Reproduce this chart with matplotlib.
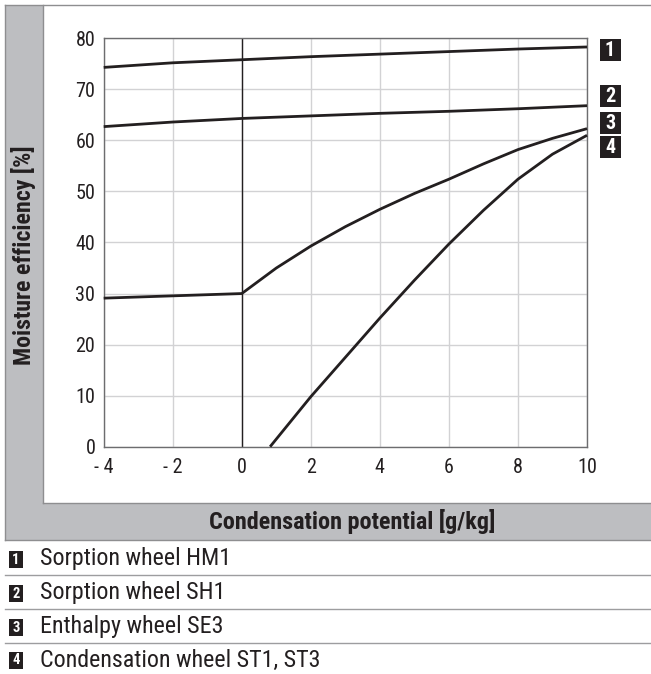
import matplotlib
matplotlib.use("Agg")
import matplotlib.pyplot as plt
from matplotlib.patches import Rectangle
from matplotlib.lines import Line2D
from matplotlib import font_manager

# --- data -------------------------------------------------------------
x_hm1 = [-4, -2, 0, 2, 4, 6, 8, 10]
y_hm1 = [74.3, 75.2, 75.8, 76.4, 76.9, 77.4, 77.9, 78.3]

x_sh1 = [-4, -2, 0, 2, 4, 6, 8, 10]
y_sh1 = [62.7, 63.6, 64.3, 64.8, 65.3, 65.7, 66.2, 66.8]

x_se3 = [-4, -2, 0, 1, 2, 3, 4, 5, 6, 7, 8, 9, 10]
y_se3 = [29.1, 29.55, 30.0, 35.0, 39.3, 43.1, 46.5, 49.6, 52.4, 55.4, 58.2, 60.4, 62.3]

x_st = [0.82, 2, 3, 4, 5, 6, 7, 8, 9, 10]
y_st = [0.0, 9.8, 17.5, 25.2, 32.6, 39.7, 46.3, 52.4, 57.3, 61.0]

series_numbers = ["1", "2", "3", "4"]
series_names = ["Sorption wheel HM1", "Sorption wheel SH1",
                "Enthalpy wheel SE3", "Condensation wheel ST1, ST3"]

x_ticks = [-4, -2, 0, 2, 4, 6, 8, 10]
x_tick_labels = ["- 4", "- 2", "0", "2", "4", "6", "8", "10"]
y_ticks = [0, 10, 20, 30, 40, 50, 60, 70, 80]

x_label = "Condensation potential [g/kg]"
y_label = "Moisture efficiency [%]"

# --- fonts: prefer a narrow sans if one is installed ----------------------
fonts = font_manager.fontManager.ttflist
names = {f.name for f in fonts}
family = None
stretch = "normal"
for cand in ["Liberation Sans Narrow", "Arial Narrow", "Roboto Condensed",
             "Open Sans Condensed", "Noto Sans Condensed", "DejaVu Sans Condensed"]:
    if cand in names:
        family = cand
        break
if family is None:
    for f in fonts:
        if ("Narrow" in f.name or "Condensed" in f.name) and "Mono" not in f.name:
            family = f.name
            break
if family is None:
    for f in fonts:
        st = f.stretch
        if isinstance(st, str) and "condensed" in st and "Mono" not in f.name \
                and "Serif" not in f.name:
            family, stretch = f.name, st
            break
narrow_found = family is not None
if family is None:
    family = "Liberation Sans"
plt.rcParams["font.family"] = [family, "DejaVu Sans"]
plt.rcParams["font.stretch"] = stretch
scale = 1.0 if narrow_found else 0.9

W, H = 651, 674
fig = plt.figure(figsize=(W / 100, H / 100), dpi=100, facecolor="white")

def fx(px):
    return px / W

def fy(py):
    return 1 - py / H

panel_grey = "#bdbec1"
border_grey = "#8e8e90"
ink = "#231f20"

# grey frame: left strip and bottom band
fig.add_artist(Rectangle((fx(5), fy(540)), fx(43) - fx(5), fy(5) - fy(540),
                         transform=fig.transFigure, facecolor=panel_grey,
                         edgecolor="none", zorder=0))
fig.add_artist(Rectangle((fx(5), fy(540)), fx(651) - fx(5), fy(503) - fy(540),
                         transform=fig.transFigure, facecolor=panel_grey,
                         edgecolor="none", zorder=0))
# frame border lines
for (x0, y0, x1, y1) in [(5, 5, 651, 5), (5, 5, 5, 540), (5, 540, 651, 540),
                         (43, 503, 651, 503), (43, 5, 43, 503)]:
    fig.add_artist(Line2D([fx(x0), fx(x1)], [fy(y0), fy(y1)],
                          transform=fig.transFigure, color=border_grey,
                          lw=1.0, zorder=1))

# --- axes ---------------------------------------------------------------
ax_l, ax_r, ax_t, ax_b = 103.7, 587.0, 38.3, 446.7
ax = fig.add_axes([fx(ax_l), fy(ax_b), fx(ax_r) - fx(ax_l), fy(ax_t) - fy(ax_b)])
ax.set_xlim(-4, 10)
ax.set_ylim(0, 80)
ax.set_xticks(x_ticks)
ax.set_xticklabels(x_tick_labels)
ax.set_yticks(y_ticks)
ax.tick_params(axis="both", length=0, labelsize=14.5 * scale, colors=ink)
ax.tick_params(axis="x", pad=8)
ax.tick_params(axis="y", pad=6)
ax.grid(True, color="#d2d2d4", lw=1.0)
ax.set_axisbelow(True)
for sp in ax.spines.values():
    sp.set_color("#6d6d6f")
    sp.set_linewidth(1.0)
ax.axvline(0, color=ink, lw=1.0, zorder=2)

for xs, ys in [(x_hm1, y_hm1), (x_sh1, y_sh1), (x_se3, y_se3), (x_st, y_st)]:
    ax.plot(xs, ys, color=ink, lw=2.0, solid_joinstyle="round",
            solid_capstyle="butt", zorder=3, clip_on=False)

# axis titles
fig.text(fx(24), fy(255), y_label, rotation=90, ha="center", va="center",
         fontsize=17.2 * scale, fontweight="bold", color=ink)
fig.text(fx(352), fy(521), x_label, ha="center", va="center",
         fontsize=17.4 * scale, fontweight="bold", color=ink)

# numbered badges
def badge(cx, cy, label, w=21, h=22, size=13):
    fig.add_artist(Rectangle((fx(cx - w / 2), fy(cy + h / 2)), fx(w), h / H,
                             transform=fig.transFigure, facecolor=ink,
                             edgecolor="none", zorder=4))
    fig.text(fx(cx), fy(cy + 0.5), label, ha="center", va="center",
             fontsize=size, fontweight="bold", color="white", zorder=5)

badge_y_right = [50.3, 96, 123, 147]
for num, cy in zip(series_numbers, badge_y_right):
    badge(610, cy, num, size=14.5)

# legend rows below the chart
row_centres = [559, 593, 627, 660]
for num, name, cy in zip(series_numbers, series_names, row_centres):
    badge(16, cy, num, w=14, h=17, size=10.5)
    fig.text(fx(40), fy(cy), name, ha="left", va="center",
             fontsize=17.3 * scale, color=ink)
for sy in [575, 609.3, 643.3]:
    fig.add_artist(Line2D([fx(5), fx(651)], [fy(sy), fy(sy)],
                          transform=fig.transFigure, color="#9d9d9f",
                          lw=1.0, zorder=1))

fig.savefig("out.png", dpi=100, facecolor="white")
